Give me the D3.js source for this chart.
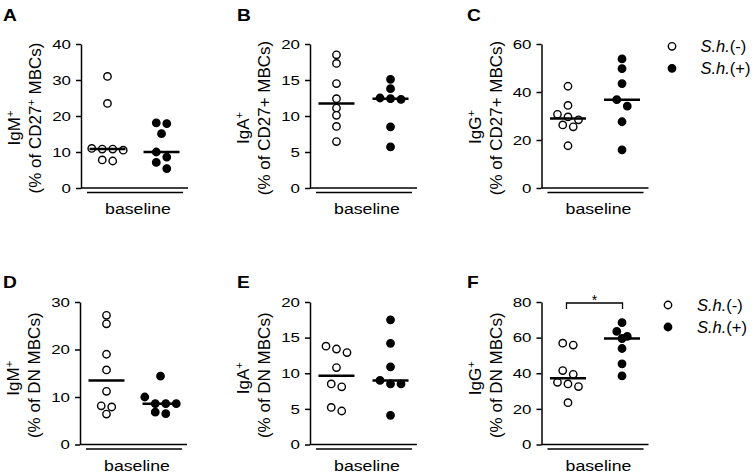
<!doctype html>
<html>
<head>
<meta charset="utf-8">
<style>
  body { margin: 0; background: #fff; }
  #chart { display: block; font-family: Arial, "Liberation Sans", sans-serif; }
  #chart .axis path, #chart .axis line { stroke: #000; stroke-width: 1.5px; }
</style>
</head>
<body>
<svg id="chart" width="755" height="475"></svg>
<script src="https://cdn.jsdelivr.net/npm/d3@7/dist/d3.min.js"></script>
<script>
// groups and panel texts
var groups = ["S.h.(-)", "S.h.(+)"];
var panelLetters = ["A", "B", "C", "D", "E", "F"];
var isotypes = ["IgM^+", "IgA^+", "IgG^+", "IgM^+", "IgA^+", "IgG^+"];
var subsets = ["(% of CD27^+ MBCs)", "(% of CD27+ MBCs)", "(% of CD27+ MBCs)",
               "(% of DN MBCs)", "(% of DN MBCs)", "(% of DN MBCs)"];
var xLabel = "baseline";

// y axis max and tick step per panel
var yMax  = [40, 20, 60, 30, 20, 80];
var yStep = [10, 5, 20, 10, 5, 20];

// values: S.h.(-) and S.h.(+) per panel
var negA = [31, 23.5, 11, 10.8, 10.8, 10.5, 7.8, 7.5];
var posA = [18.1, 17.9, 15.1, 10.0, 8.6, 7.1, 5.4];
var negB = [18.5, 17.3, 14.5, 12.4, 11.1, 10.1, 8.55, 6.45];
var posB = [15.1, 13.8, 12.5, 12.4, 12.3, 8.5, 5.7];
var negC = [42.4, 34.4, 30.7, 29.6, 28.4, 26.3, 25.5, 17.6];
var posC = [53.8, 49.7, 43.5, 36.8, 34.1, 27.6, 15.9];
var negD = [27.2, 25.4, 19.0, 15.7, 11.2, 8.15, 7.9, 6.4];
var posD = [14.4, 10.0, 8.6, 8.6, 8.6, 6.8, 6.5];
var negE = [13.8, 13.4, 12.9, 10.8, 8.5, 8.1, 5.2, 4.7];
var posE = [17.5, 14.2, 10.9, 9.0, 8.5, 8.5, 4.1];
var negF = [56.9, 55.8, 41.5, 39.4, 34.9, 34.0, 32.5, 23.5];
var posF = [68.4, 63.5, 60.7, 59.5, 53.9, 45.3, 38.5];

// significance marks
var sigPanels = ["F"];
var sigLabels = ["*"];

var panelData = [[negA, posA], [negB, posB], [negC, posC], [negD, posD], [negE, posE], [negF, posF]];

// layout
var SX = 1.3;         // horizontal text stretch seen in the figure
var plotW = 107;
var r = 3.7;
var layout = [
  {x: 81,    top: 44,  bottom: 188,   letterX: 3,   letterY: 21, lab1: 12},
  {x: 310,   top: 44,  bottom: 188,   letterX: 237, letterY: 21, lab1: 12},
  {x: 541.5, top: 44,  bottom: 188,   letterX: 467, letterY: 21, lab1: 11},
  {x: 80,    top: 302, bottom: 444.5, letterX: 3,   letterY: 288, lab1: 5},
  {x: 310,   top: 302, bottom: 444.5, letterX: 237, letterY: 288, lab1: 5},
  {x: 541.5, top: 302, bottom: 444.5, letterX: 467, letterY: 288, lab1: 5}
];
var legendPos = {C: {cx: 672, cy: 46.3, tx: 700.5}, F: {cx: 668, cy: 305, tx: 697}};

var chart = d3.select("#chart");

// writes "IgM^+" style strings with superscripts
function richText(sel, str, size) {
  var parts = str.split("^");
  sel.append("tspan").text(parts[0]);
  for (var i = 1; i < parts.length; i++) {
    sel.append("tspan").attr("dy", -6).attr("font-size", size * 0.65).text(parts[i].charAt(0));
    sel.append("tspan").attr("dy", 6).text(parts[i].slice(1));
  }
}

// spread dots that sit at about the same height, like a scatter dot plot
function swarm(vals, y, spacing, thresh) {
  var sorted = vals.slice().sort(function(a, b) { return b - a; });
  var rows = [];
  sorted.forEach(function(v) {
    var row = rows[rows.length - 1];
    if (row && Math.abs(y(row[0]) - y(v)) < thresh) row.push(v);
    else rows.push([v]);
  });
  var out = [];
  rows.forEach(function(row) {
    row.forEach(function(v, i) { out.push({v: v, dx: (i - (row.length - 1) / 2) * spacing}); });
  });
  return out;
}

panelLetters.forEach(function(letter, p) {
  var L = layout[p];
  var g = chart.append("g");

  var y = d3.scaleLinear().domain([0, yMax[p]]).range([L.bottom, L.top]);
  var x = d3.scalePoint().domain(groups).range([L.x, L.x + plotW]).padding(0.49);

  // y axis
  var yAxis = d3.axisLeft(y)
    .tickValues(d3.range(0, yMax[p] + yStep[p], yStep[p]))
    .tickSize(5).tickSizeOuter(0);
  var ag = g.append("g").attr("class", "axis")
    .attr("transform", "translate(" + L.x + ",0)")
    .call(yAxis);
  ag.selectAll("text")
    .attr("x", -10 / SX)
    .attr("transform", "scale(" + SX + ",1)")
    .attr("font-size", 13)
    .attr("font-family", "Arial, 'Liberation Sans', sans-serif")
    .attr("fill", "#000");

  // x axis line and group underline
  g.append("line")
    .attr("x1", L.x).attr("x2", L.x + plotW)
    .attr("y1", y(0)).attr("y2", y(0))
    .attr("stroke", "#000").attr("stroke-width", 1.5);
  g.append("line")
    .attr("x1", L.x + 6).attr("x2", L.x + 102)
    .attr("y1", y(0) + 4.6).attr("y2", y(0) + 4.6)
    .attr("stroke", "#000").attr("stroke-width", 1.5);
  g.append("g")
    .attr("transform", "translate(" + (L.x + 57) + "," + (y(0) + 26) + ") scale(1.22,1)")
    .append("text")
    .attr("text-anchor", "middle").attr("font-size", 14.5)
    .text(xLabel);

  // panel letter
  g.append("g")
    .attr("transform", "translate(" + L.letterX + "," + L.letterY + ") scale(1.2,1)")
    .append("text")
    .attr("font-size", 16).attr("font-weight", "bold")
    .text(letter);

  // y labels (two lines)
  var mid = (L.top + L.bottom) / 2;
  var t1 = g.append("text")
    .attr("transform", "translate(" + (L.x - 61) + "," + (mid + L.lab1) + ") rotate(-90)")
    .attr("text-anchor", "middle").attr("font-size", 17);
  richText(t1, isotypes[p], 17);
  var t2 = g.append("text")
    .attr("transform", "translate(" + (L.x - 40) + "," + (mid + 2) + ") rotate(-90)")
    .attr("text-anchor", "middle").attr("font-size", 17);
  richText(t2, subsets[p], 17);

  // dots and medians
  panelData[p].forEach(function(vals, gi) {
    var cx = x(groups[gi]);
    var pts = swarm(vals, y, 10.5, 7);
    g.selectAll(null)
      .data(pts)
      .enter().append("circle")
        .attr("cx", function(d) { return cx + d.dx; })
        .attr("cy", function(d) { return y(d.v); })
        .attr("r", r)
        .attr("fill", gi === 0 ? "#fff" : "#000")
        .attr("stroke", "#000")
        .attr("stroke-width", 1.4);
    var med = d3.median(vals);
    g.append("line")
      .attr("x1", cx - 18).attr("x2", cx + 18)
      .attr("y1", y(med)).attr("y2", y(med))
      .attr("stroke", "#000").attr("stroke-width", 2.5);
  });

  // significance bracket
  var si = sigPanels.indexOf(letter);
  if (si >= 0) {
    var by = y(yMax[p]) + 1;
    var x1 = x(groups[0]) - 1.5, x2 = x(groups[1]) + 0.5;
    g.append("path")
      .attr("d", "M" + x1 + "," + (by + 6) + "V" + by + "H" + x2 + "V" + (by + 6))
      .attr("fill", "none").attr("stroke", "#000").attr("stroke-width", 1.3);
    g.append("text")
      .attr("x", (x1 + x2) / 2).attr("y", by + 1.5)
      .attr("text-anchor", "middle").attr("font-size", 14)
      .text(sigLabels[si]);
  }

  // legend
  var lp = legendPos[letter];
  if (lp) {
    groups.forEach(function(name, gi) {
      var cy = lp.cy + gi * 22;
      g.append("circle")
        .attr("cx", lp.cx).attr("cy", cy).attr("r", r)
        .attr("fill", gi === 0 ? "#fff" : "#000")
        .attr("stroke", "#000").attr("stroke-width", 1.4);
      var lt = g.append("text")
        .attr("x", lp.tx).attr("y", cy + 6)
        .attr("font-size", 16.5);
      var cut = name.indexOf("(");
      lt.append("tspan").attr("font-style", "italic").text(name.slice(0, cut));
      lt.append("tspan").text(name.slice(cut));
    });
  }
});
</script>
</body>
</html>
